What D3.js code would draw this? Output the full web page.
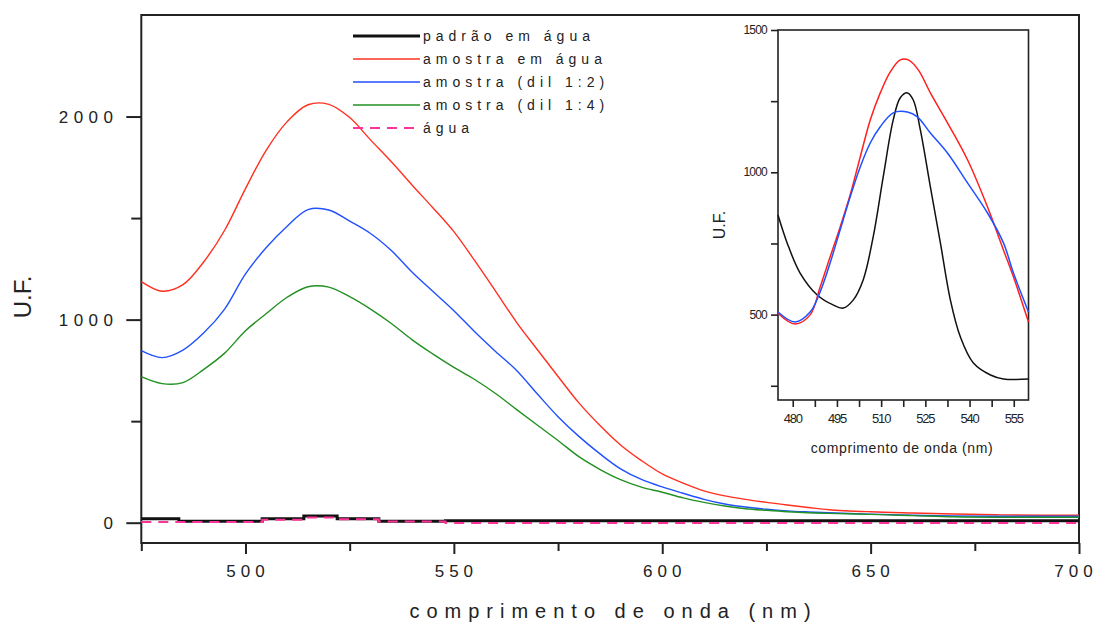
<!DOCTYPE html>
<html>
<head>
<meta charset="utf-8">
<script src="https://cdn.jsdelivr.net/npm/d3@7"></script>
<style>
  body { margin: 0; background: #fff; }
  text { font-family: "Liberation Sans", Arial, sans-serif; fill: #222; }
</style>
</head>
<body>
<svg id="chart"></svg>
<script>
let w = 1100;
let h = 623;

// main chart data (wavelength in nm, fluorescence U.F.)
let wavelengths = [475, 480, 485, 490, 495, 500, 505, 510, 515, 520, 525, 530, 535, 540, 545, 550, 555, 560, 565, 570,
  575, 580, 585, 590, 595, 600, 605, 610, 615, 620, 625, 630, 635, 640, 650, 660, 670, 680, 690, 700];
let amostraAgua = [1187, 1140, 1172, 1285, 1440, 1645, 1835, 1975, 2058, 2060, 1995, 1885, 1777, 1662, 1550, 1433, 1290, 1140, 988, 853,
  720, 590, 480, 383, 306, 240, 195, 157, 132, 115, 100, 87, 75, 64, 54, 48, 43, 39, 37, 37];
let amostraDil2 = [847, 813, 850, 935, 1052, 1225, 1355, 1460, 1542, 1540, 1485, 1424, 1340, 1233, 1138, 1044, 940, 843, 751, 635,
  522, 425, 340, 265, 213, 176, 145, 115, 92, 77, 66, 58, 53, 49, 42, 37, 33, 32, 32, 32];
let amostraDil4 = [719, 685, 690, 755, 835, 945, 1030, 1110, 1162, 1160, 1113, 1052, 981, 900, 830, 765, 705, 636, 558, 481,
  405, 325, 263, 212, 175, 150, 122, 100, 82, 69, 61, 54, 49, 46, 41, 35, 29, 27, 27, 27];
// stepped low-level traces
let padraoWl = [475, 484, 504, 514, 522, 532, 548, 700];
let padraoAgua = [20, 7, 20, 33, 20, 7, 10, 10];
let aguaWl = [475, 484, 504, 514, 522, 532, 548, 700];
let agua = [4, 4, 14, 26, 17, 6, -2, -2];

// inset data
let insetPadraoWl = [475, 478.1, 482.5, 488.3, 493.7, 497.1, 500.5, 503.9, 507.3, 510.7, 514.1, 516.5, 518.9, 520.9, 523.3,
  526.7, 530.1, 533.5, 536.9, 541.3, 547.1, 551.5, 560];
let insetPadrao = [850, 752, 646, 569, 534, 523, 551, 622, 773, 984, 1184, 1262, 1279, 1254, 1149,
  949, 752, 551, 421, 330, 288, 274, 274];
let insetAmostraWl = [475, 480.8, 485.9, 489.3, 492.7, 496.1, 499.5, 502.9, 506.3, 509.7, 513.1, 516.5, 519.2, 522.6,
  526.7, 532.5, 539.3, 546.1, 551.5, 554.9, 560];
let insetAmostra = [505, 467, 499, 597, 703, 808, 921, 1054, 1184, 1279, 1353, 1395, 1395, 1360,
  1279, 1174, 1044, 878, 727, 632, 474];
let insetDilWl = [475, 480.8, 485.9, 489.3, 492.7, 496.1, 499.5, 502.9, 506.3, 509.7, 514.1, 518.9, 522.3,
  526.7, 532.5, 539.3, 546.1, 551.5, 554.9, 560];
let insetDil = [509, 474, 509, 580, 682, 798, 914, 1019, 1103, 1160, 1209, 1212, 1195,
  1138, 1068, 963, 857, 752, 646, 509];

let legendLabels = ["padrão em água", "amostra em água", "amostra (dil 1:2)", "amostra (dil 1:4)", "água"];
let xTicks = [475, 500, 525, 550, 575, 600, 625, 650, 675, 700];
let yTicks = [0, 500, 1000, 1500, 2000];
let insetXTicks = [480, 487.5, 495, 502.5, 510, 517.5, 525, 532.5, 540, 547.5, 555];
let insetYTicks = [250, 500, 750, 1000, 1250, 1500];

let colors = { black: "#111", red: "#ff3020", blue: "#2050ff", green: "#229022", pink: "#ff3399" };

let svg = d3.select("#chart").attr("width", w).attr("height", h);

let xScale = d3.scaleLinear().domain([475, 700]).range([141.3, 1079]);
let yScale = d3.scaleLinear().domain([-100, 2500]).range([543, 15]);

let pts = (xs, ys) => xs.map((x, i) => [x, ys[i]]);

// main frame
svg.append("rect")
  .attr("x", xScale(475)).attr("y", yScale(2500))
  .attr("width", xScale(700) - xScale(475)).attr("height", yScale(-100) - yScale(2500))
  .attr("fill", "none").attr("stroke", "#222").attr("stroke-width", 2);

// x axis
let xAxis = d3.axisBottom(xScale).tickValues(xTicks).tickFormat(() => "").tickSize(8).tickSizeOuter(0);
let xg = svg.append("g").attr("transform", `translate(0,${yScale(-100)})`).call(xAxis);
xg.select(".domain").remove();
xg.selectAll(".tick line").attr("stroke", "#222").attr("stroke-width", 2)
  .attr("y2", d => d % 50 === 0 ? 11 : 8);
svg.append("g").selectAll("text").data(xTicks.filter(d => d % 50 === 0)).enter().append("text")
  .attr("x", d => Math.min(xScale(d) + 2.5, 1076))
  .attr("y", 577)
  .attr("text-anchor", "middle").attr("font-size", 17).attr("letter-spacing", 5)
  .text(d => d);

// y axis
let yAxis = d3.axisLeft(yScale).tickValues(yTicks).tickFormat(() => "").tickSize(10).tickSizeOuter(0);
let yg = svg.append("g").attr("transform", `translate(${xScale(475)},0)`).call(yAxis);
yg.select(".domain").remove();
yg.selectAll(".tick line").attr("stroke", "#222").attr("stroke-width", 2)
  .attr("x2", d => d % 1000 === 0 ? -15 : -10);
svg.append("g").selectAll("text").data(yTicks.filter(d => d % 1000 === 0)).enter().append("text")
  .attr("x", 113 + 5.5).attr("y", d => yScale(d) + 6)
  .attr("text-anchor", "end").attr("font-size", 17).attr("letter-spacing", 5.5)
  .text(d => d);

svg.append("text")
  .attr("transform", "translate(31,297) rotate(-90)")
  .attr("text-anchor", "middle").attr("font-size", 24)
  .text("U.F.");
svg.append("text")
  .attr("x", 610 + 3.5).attr("y", 618)
  .attr("text-anchor", "middle").attr("font-size", 20).attr("letter-spacing", 7)
  .text("comprimento de onda (nm)");

// main lines
let line = d3.line().x(d => xScale(d[0])).y(d => yScale(d[1])).curve(d3.curveCatmullRom.alpha(0.5));
let stepLine = d3.line().x(d => xScale(d[0])).y(d => yScale(d[1])).curve(d3.curveStepAfter);

let mainSeries = [
  { data: pts(wavelengths, amostraAgua), color: colors.red },
  { data: pts(wavelengths, amostraDil2), color: colors.blue },
  { data: pts(wavelengths, amostraDil4), color: colors.green }
];
svg.append("g").selectAll("path").data(mainSeries).enter().append("path")
  .attr("d", d => line(d.data))
  .attr("fill", "none").attr("stroke", d => d.color).attr("stroke-width", 1.4);

svg.append("path").attr("d", stepLine(pts(padraoWl, padraoAgua)))
  .attr("fill", "none").attr("stroke", colors.black).attr("stroke-width", 3);
svg.append("path").attr("d", stepLine(pts(aguaWl, agua)))
  .attr("fill", "none").attr("stroke", colors.pink).attr("stroke-width", 2)
  .attr("stroke-dasharray", "10,7");

// legend
let legend = svg.append("g");
let legendStyles = [
  { color: colors.black, width: 3, dash: null },
  { color: colors.red, width: 1.5, dash: null },
  { color: colors.blue, width: 1.5, dash: null },
  { color: colors.green, width: 1.5, dash: null },
  { color: colors.pink, width: 2, dash: "10,7" }
];
legendLabels.forEach((lab, i) => {
  let yy = 36 + i * 23;
  legend.append("line")
    .attr("x1", 353).attr("x2", 420).attr("y1", yy).attr("y2", yy)
    .attr("stroke", legendStyles[i].color).attr("stroke-width", legendStyles[i].width)
    .attr("stroke-dasharray", legendStyles[i].dash);
  legend.append("text")
    .attr("x", 423).attr("y", yy + 5)
    .attr("font-size", 14).attr("letter-spacing", 5)
    .text(lab);
});

// inset
let ix = d3.scaleLinear().domain([475, 560]).range([778, 1028.5]);
let iy = d3.scaleLinear().domain([200, 1500]).range([400, 30]);

let inset = svg.append("g");
inset.append("rect")
  .attr("x", ix(475)).attr("y", iy(1500))
  .attr("width", ix(560) - ix(475)).attr("height", iy(200) - iy(1500))
  .attr("fill", "#fff").attr("stroke", "#222").attr("stroke-width", 1.6);

let ixAxis = d3.axisBottom(ix).tickValues(insetXTicks).tickFormat(() => "").tickSize(7).tickSizeOuter(0);
let ixg = inset.append("g").attr("transform", `translate(0,${iy(200)})`).call(ixAxis);
ixg.select(".domain").remove();
ixg.selectAll(".tick line").attr("stroke", "#222").attr("stroke-width", 1.6);
inset.append("g").selectAll("text").data(insetXTicks.filter(d => d % 15 === 0)).enter().append("text")
  .attr("x", d => ix(d)).attr("y", 423)
  .attr("text-anchor", "middle").attr("font-size", 13).attr("letter-spacing", -1.2)
  .text(d => d);

let iyAxis = d3.axisLeft(iy).tickValues(insetYTicks).tickFormat(() => "").tickSize(7).tickSizeOuter(0);
let iyg = inset.append("g").attr("transform", `translate(${ix(475)},0)`).call(iyAxis);
iyg.select(".domain").remove();
iyg.selectAll(".tick line").attr("stroke", "#222").attr("stroke-width", 1.6);
inset.append("g").selectAll("text").data(insetYTicks.filter(d => d % 500 === 0)).enter().append("text")
  .attr("x", 767).attr("y", d => iy(d) + 4)
  .attr("text-anchor", "end").attr("font-size", 12).attr("letter-spacing", -0.8)
  .text(d => d);

inset.append("text")
  .attr("transform", "translate(725,225) rotate(-90)")
  .attr("text-anchor", "middle").attr("font-size", 16)
  .text("U.F.");
inset.append("text")
  .attr("x", 902).attr("y", 453)
  .attr("text-anchor", "middle").attr("font-size", 14).attr("letter-spacing", 0.6)
  .text("comprimento de onda (nm)");

let iline = d3.line().x(d => ix(d[0])).y(d => iy(d[1])).curve(d3.curveCatmullRom.alpha(0.5));
let insetSeries = [
  { data: pts(insetPadraoWl, insetPadrao), color: colors.black },
  { data: pts(insetAmostraWl, insetAmostra), color: "#ff2020" },
  { data: pts(insetDilWl, insetDil), color: colors.blue }
];
inset.append("g").selectAll("path").data(insetSeries).enter().append("path")
  .attr("d", d => iline(d.data))
  .attr("fill", "none").attr("stroke", d => d.color).attr("stroke-width", 1.5);
</script>
</body>
</html>
